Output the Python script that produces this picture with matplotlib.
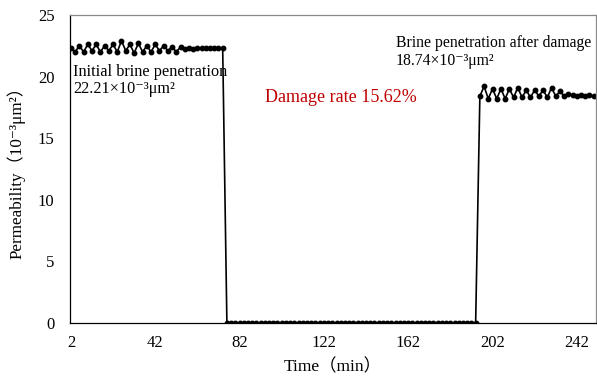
import numpy as np
import matplotlib
matplotlib.use("Agg")
import matplotlib.pyplot as plt

plt.rcParams['font.family'] = ['Liberation Serif', 'DejaVu Serif', 'Noto Sans CJK SC']

# permeability readings (10^-3 um^2), one every 2 min
t_before = np.arange(2, 75, 2)
k_before = [22.3, 22.0, 22.5, 22.0, 22.6, 22.1, 22.6, 22.0, 22.5, 22.1, 22.6, 22.0,
            22.9, 22.1, 22.6, 21.9, 22.7, 22.0, 22.5, 22.0, 22.6, 22.1, 22.5, 22.1,
            22.4, 22.0, 22.4, 22.2, 22.3, 22.2, 22.3, 22.3, 22.3, 22.3, 22.3, 22.3, 22.3]
t_gap = np.arange(76, 195, 2)
k_gap = [0.0] * len(t_gap)
t_after = np.arange(196, 251, 2)
k_after = [18.4, 19.2, 18.2, 19.0, 18.2, 19.0, 18.2, 19.0, 18.3, 19.1, 18.3, 18.9,
           18.3, 18.9, 18.4, 18.9, 18.3, 19.1, 18.4, 18.8, 18.4, 18.6, 18.5, 18.4,
           18.5, 18.4, 18.5, 18.4]

t = np.concatenate([t_before, t_gap, t_after])
k = np.concatenate([k_before, k_gap, k_after])

xticks = [2, 42, 82, 122, 162, 202, 242]

fig = plt.figure(figsize=(5.97, 3.83), dpi=100)
ax = fig.add_axes([0.117, 0.157, 0.881, 0.804])

ax.plot(t, k, color='black', lw=1.2, marker='o', ms=3.2)

ax.set_xlim(1.5, 251)
ax.set_ylim(0, 25)
ax.set_xticks(xticks)
ax.set_yticks([0, 5, 10, 15, 20, 25])
ax.tick_params(length=0, labelsize=12)
ax.tick_params(axis='y', pad=11)
ax.tick_params(axis='x', pad=9)

for s in ['left', 'bottom']:
    ax.spines[s].set_color('black')
    ax.spines[s].set_linewidth(0.9)
for s in ['top', 'right']:
    ax.spines[s].set_color('#888888')
    ax.spines[s].set_linewidth(0.9)

ax.set_xlabel('Time（min）', fontsize=12.5, labelpad=5)
ax.set_ylabel('Permeability（10⁻³μm²）', fontsize=12.3, labelpad=9)

ax.text(3, 20.4, 'Initial brine penetration', fontsize=11.7, va='center')
ax.text(3, 19.0, '22.21×10⁻³μm²', fontsize=11.7, va='center')
ax.text(156, 22.7, 'Brine penetration after damage', fontsize=11.3, va='center')
ax.text(156, 21.3, '18.74×10⁻³μm²', fontsize=11.3, va='center')
ax.text(94, 18.3, 'Damage rate 15.62%', fontsize=13, color='#C00000', va='center')

fig.savefig('out.png', dpi=100)
